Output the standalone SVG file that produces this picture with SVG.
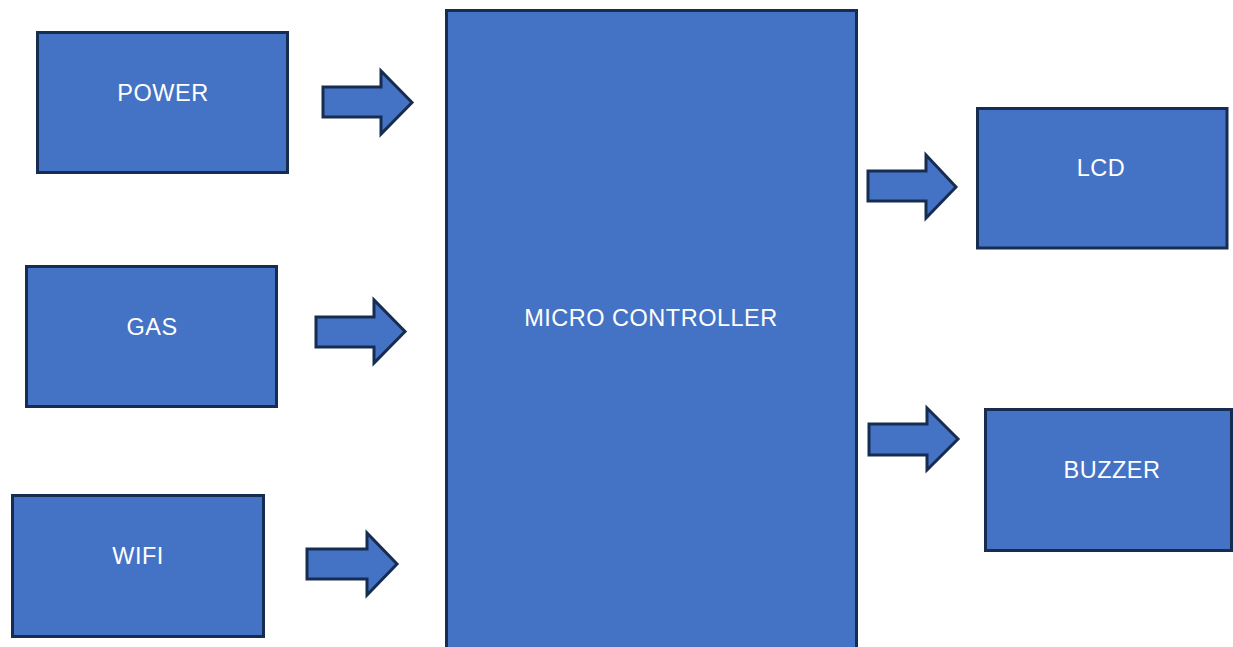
<svg xmlns="http://www.w3.org/2000/svg" width="1233" height="647" viewBox="0 0 1233 647">
<style>
.box{fill:#4472C4;stroke:#172C51;stroke-width:3}
.arr{fill:#4472C4;stroke:#172C51;stroke-width:3;stroke-linejoin:miter}
.lbl{font-family:"Liberation Sans",Arial,sans-serif;font-size:23.5px;fill:#FFFFFF;text-anchor:middle;letter-spacing:0.5px}
</style>
<rect width="1233" height="647" fill="#FFFFFF"/>
<g id="power"><rect class="box" x="37.5" y="32.5" width="250" height="140"/><text class="lbl" x="163" y="101">POWER</text></g>
<g id="gas"><rect class="box" x="26.5" y="266.5" width="250" height="140"/><text class="lbl" x="152" y="335">GAS</text></g>
<g id="wifi"><rect class="box" x="12.5" y="495.5" width="251" height="141"/><text class="lbl" x="138" y="564">WIFI</text></g>
<g id="mcu"><rect class="box" x="446.5" y="10.5" width="410" height="650"/><text class="lbl" x="651" y="326">MICRO CONTROLLER</text></g>
<g id="lcd"><rect class="box" x="977.5" y="108.5" width="249.5" height="139.5"/><text class="lbl" x="1101" y="176">LCD</text></g>
<g id="buzzer"><rect class="box" x="985.5" y="409.5" width="246" height="141"/><text class="lbl" x="1112" y="478">BUZZER</text></g>
<g id="connectors">
<polygon class="arr" points="323,87 381,87 381,71 412,102.5 381,134 381,117 323,117"/>
<polygon class="arr" points="316,317 374,317 374,300 405,331.5 374,363 374,347 316,347"/>
<polygon class="arr" points="307,549 367,549 367,533 397,564 367,595 367,579 307,579"/>
<polygon class="arr" points="868,171 926,171 926,155 956,187 926,218 926,201 868,201"/>
<polygon class="arr" points="869,424 927,424 927,408 958,439 927,470 927,455 869,455"/>
</g>
</svg>
